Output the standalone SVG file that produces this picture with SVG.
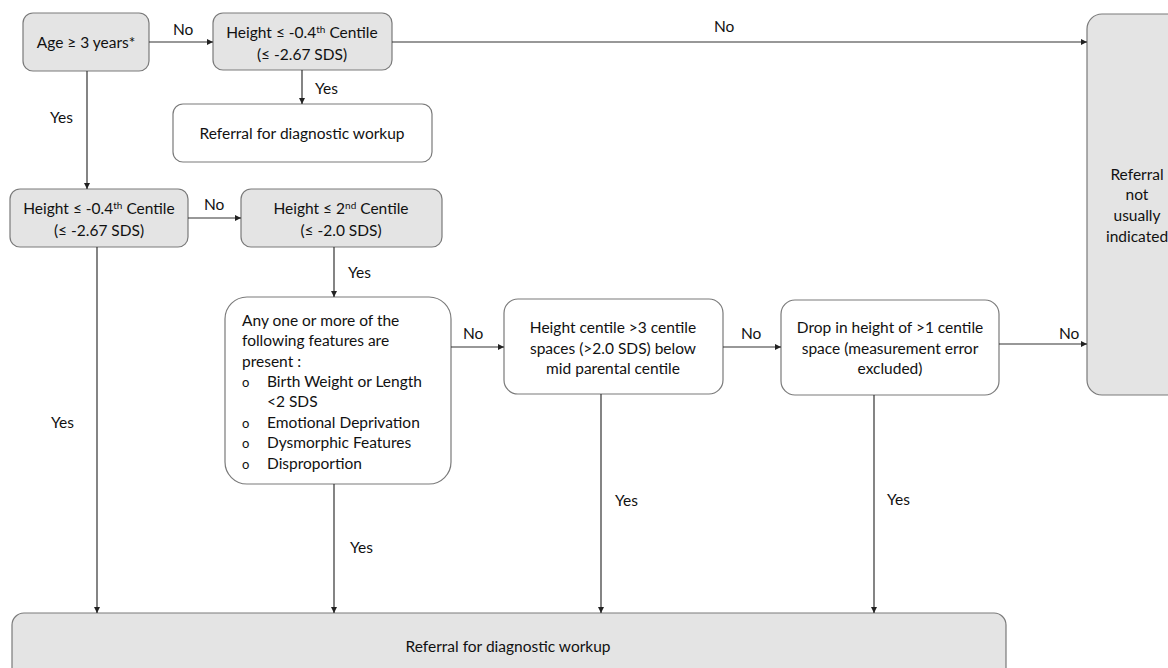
<svg xmlns="http://www.w3.org/2000/svg" width="1168" height="668" viewBox="0 0 1168 668">
<defs>
<marker id="ah" viewBox="0 0 10 10" refX="10" refY="5" markerWidth="6" markerHeight="6" markerUnits="userSpaceOnUse" orient="auto">
<path d="M0,0 L10,5 L0,10 z" fill="#222"/>
</marker>
<style>
text{font-family:Lato,"Open Sans","Liberation Sans",sans-serif;font-size:15.5px;fill:#111}
.g{fill:#e4e4e4;stroke:#7a7a7a;stroke-width:1.2}
.w{fill:#fff;stroke:#7a7a7a;stroke-width:1.2}
.c{text-anchor:middle}
.ln{fill:none;stroke:#333;stroke-width:1.2;marker-end:url(#ah)}
.sup{font-size:10px}
.sm{font-size:13px}
</style>
</defs>
<rect width="1168" height="668" fill="#fff"/>
<g id="age">
<rect class="g" x="23" y="13" width="126" height="58" rx="10"/>
<text class="c" x="86" y="48">Age ≥ 3 years*</text>
</g>
<g id="h1">
<rect class="g" x="213" y="13" width="179" height="57" rx="10"/>
<text class="c" x="302" y="38">Height ≤ -0.4<tspan class="sup" dy="-5">th</tspan><tspan dy="5"> Centile</tspan></text>
<text class="c" x="302" y="60">(≤ -2.67 SDS)</text>
</g>
<g id="ref1">
<rect class="w" x="173" y="104" width="259" height="58" rx="10"/>
<text class="c" x="302" y="139">Referral for diagnostic workup</text>
</g>
<g id="notind">
<rect class="g" x="1087" y="14" width="110" height="381" rx="15"/>
<text class="c" x="1137" y="180">Referral</text>
<text class="c" x="1137" y="200">not</text>
<text class="c" x="1137" y="221">usually</text>
<text class="c" x="1137" y="242">indicated</text>
</g>
<g id="h2">
<rect class="g" x="10" y="189" width="178" height="58" rx="10"/>
<text class="c" x="99" y="214">Height ≤ -0.4<tspan class="sup" dy="-5">th</tspan><tspan dy="5"> Centile</tspan></text>
<text class="c" x="99" y="236">(≤ -2.67 SDS)</text>
</g>
<g id="h3">
<rect class="g" x="241" y="189" width="201" height="58" rx="10"/>
<text class="c" x="341" y="214">Height ≤ 2<tspan class="sup" dy="-5">nd</tspan><tspan dy="5"> Centile</tspan></text>
<text class="c" x="341" y="236">(≤ -2.0 SDS)</text>
</g>
<g id="features">
<rect class="w" x="225" y="297" width="226" height="187" rx="22"/>
<text x="242" y="326">Any one or more of the</text>
<text x="242" y="346">following features are</text>
<text x="242" y="367">present :</text>
<text x="242" y="387" class="sm">o</text><text x="267" y="387">Birth Weight or Length</text>
<text x="267" y="407">&lt;2 SDS</text>
<text x="242" y="428" class="sm">o</text><text x="267" y="428">Emotional Deprivation</text>
<text x="242" y="448" class="sm">o</text><text x="267" y="448">Dysmorphic Features</text>
<text x="242" y="469" class="sm">o</text><text x="267" y="469">Disproportion</text>
</g>
<g id="midpar">
<rect class="w" x="504" y="299" width="219" height="95" rx="14"/>
<text class="c" x="613" y="333">Height centile &gt;3 centile</text>
<text class="c" x="613" y="354">spaces (&gt;2.0 SDS) below</text>
<text class="c" x="613" y="374">mid parental centile</text>
</g>
<g id="drop">
<rect class="w" x="781" y="300" width="218" height="95" rx="14"/>
<text class="c" x="890" y="333">Drop in height of &gt;1 centile</text>
<text class="c" x="890" y="354">space (measurement error</text>
<text class="c" x="890" y="374">excluded)</text>
</g>
<g id="ref2">
<rect class="g" x="12" y="613" width="994" height="90" rx="12"/>
<text class="c" x="508" y="652">Referral for diagnostic workup</text>
</g>
<g id="connectors">
<path class="ln" d="M149,42 H213"/>
<text x="173" y="35">No</text>
<path class="ln" d="M392,42 H1087"/>
<text x="714" y="32">No</text>
<path class="ln" d="M302,70 V104"/>
<text x="315" y="94">Yes</text>
<path class="ln" d="M87,71 V189"/>
<text x="50" y="123">Yes</text>
<path class="ln" d="M188,218 H241"/>
<text x="204" y="210">No</text>
<path class="ln" d="M334,247 V297"/>
<text x="348" y="278">Yes</text>
<path class="ln" d="M97,247 V613"/>
<text x="51" y="428">Yes</text>
<path class="ln" d="M451,347 H504"/>
<text x="463" y="339">No</text>
<path class="ln" d="M723,347 H781"/>
<text x="741" y="339">No</text>
<path class="ln" d="M999,344 H1087"/>
<text x="1059" y="339">No</text>
<path class="ln" d="M334,484 V613"/>
<text x="350" y="553">Yes</text>
<path class="ln" d="M601,394 V613"/>
<text x="615" y="506">Yes</text>
<path class="ln" d="M874,395 V613"/>
<text x="887" y="505">Yes</text>
</g>
</svg>
